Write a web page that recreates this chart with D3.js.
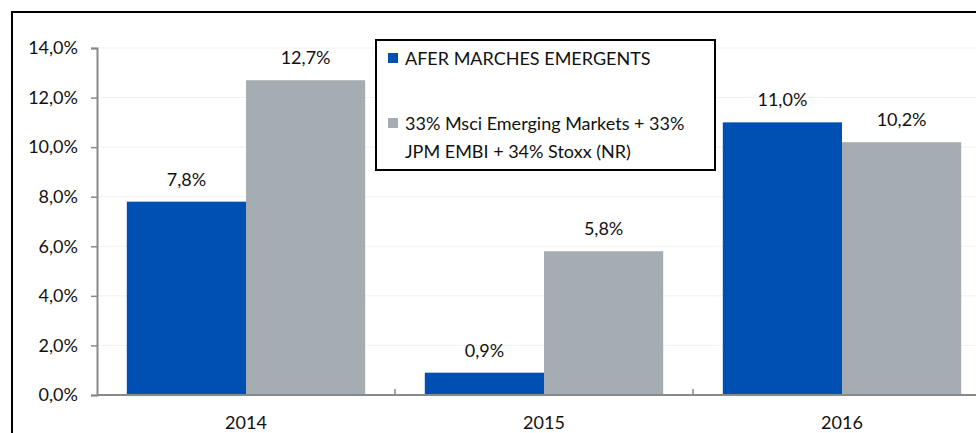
<!DOCTYPE html>
<html>
<head>
<meta charset="utf-8">
<script src="https://cdn.jsdelivr.net/npm/d3@7"></script>
<style>
  body { margin: 0; background: #fff; }
  svg text { font-family: Lato, "Open Sans", sans-serif; fill: #111; }
</style>
</head>
<body>
<div id="chart"></div>
<script>
'use strict';

const years = ['2014', '2015', '2016'];
const fund = [7.8, 0.9, 11.0];
const benchmark = [12.7, 5.8, 10.2];
const seriesNames = ['AFER MARCHES EMERGENTS', '33% Msci Emerging Markets + 33%|JPM EMBI + 34% Stoxx (NR)'];
const yTicks = [0, 2, 4, 6, 8, 10, 12, 14];

const W = 976, H = 433;
const margin = { top: 48, left: 97, right: -15, bottom: 38 };
const colors = ['#0050b4', '#a5adb3'];
const fs = '18px';
const fmt = v => v.toFixed(1).replace('.', ',') + '%';

const svg = d3.select('#chart').append('svg')
    .attr('width', W)
    .attr('height', H);

// outer frame
svg.append('rect')
    .attr('x', 12).attr('y', 12)
    .attr('width', W + 20).attr('height', H + 20)
    .attr('fill', 'none')
    .attr('stroke', '#000')
    .attr('stroke-width', 2);

const innerW = W - margin.left - margin.right;
const innerH = H - margin.top - margin.bottom;

const g = svg.append('g')
    .attr('transform', `translate(${margin.left}, ${margin.top})`);

const xOuter = d3.scaleBand().domain(years).range([0, innerW]);
const y = d3.scaleLinear().domain([0, 14]).range([innerH, 0]);

// gridlines
g.append('g')
    .selectAll('line')
    .data(yTicks.slice(1))
    .join('line')
    .attr('x1', 0).attr('x2', innerW)
    .attr('y1', d => y(d)).attr('y2', d => y(d))
    .attr('stroke', '#f2f2f2')
    .attr('stroke-width', 1);

const sub = d3.scaleBand().domain([0, 1]).range([0, xOuter.bandwidth() * 0.8]);
const series = [fund, benchmark];

series.forEach((vals, si) => {
  const grp = g.append('g');
  grp.selectAll('rect')
      .data(vals)
      .join('rect')
      .attr('x', (d, i) => xOuter(years[i]) + xOuter.bandwidth() * 0.1 + sub(si))
      .attr('y', d => y(d))
      .attr('width', sub.bandwidth())
      .attr('height', d => innerH - y(d))
      .attr('fill', colors[si]);
  grp.selectAll('text')
      .data(vals)
      .join('text')
      .attr('x', (d, i) => xOuter(years[i]) + xOuter.bandwidth() * 0.1 + sub(si) + sub.bandwidth() / 2)
      .attr('y', d => y(d) - 16)
      .attr('text-anchor', 'middle')
      .style('font-size', fs)
      .text(fmt);
});

// y axis
const yAxis = d3.axisLeft(y).tickValues(yTicks).tickFormat(fmt).tickSize(6).tickPadding(13);
const ya = g.append('g').attr('class', 'y-axis').call(yAxis);
ya.select('.domain').attr('stroke', '#898989').attr('stroke-width', 2);
ya.selectAll('.tick line').attr('stroke', '#898989').attr('stroke-width', 1.5);
ya.selectAll('.tick text').style('font-size', fs).style('fill', '#111');

// x axis
const xa = g.append('g').attr('transform', `translate(0, ${innerH})`);
xa.append('line')
    .attr('x1', 0).attr('x2', innerW)
    .attr('stroke', '#898989').attr('stroke-width', 2);
xa.selectAll('line.tk')
    .data(years.slice(1))
    .join('line')
    .attr('class', 'tk')
    .attr('x1', d => xOuter(d)).attr('x2', d => xOuter(d))
    .attr('y1', 0).attr('y2', -6)
    .attr('stroke', '#898989').attr('stroke-width', 1.5);
xa.selectAll('text')
    .data(years)
    .join('text')
    .attr('x', d => xOuter(d) + xOuter.bandwidth() / 2)
    .attr('y', 34)
    .attr('text-anchor', 'middle')
    .style('font-size', fs)
    .text(d => d);

// legend
const lg = svg.append('g').attr('transform', 'translate(376, 40)');
lg.append('rect')
    .attr('width', 339).attr('height', 130)
    .attr('fill', '#fff')
    .attr('stroke', '#000')
    .attr('stroke-width', 2);
const rows = [25, 90];
seriesNames.forEach((name, i) => {
  lg.append('rect')
      .attr('x', 12).attr('y', rows[i] - 12)
      .attr('width', 10).attr('height', 10)
      .attr('fill', colors[i]);
  const t = lg.append('text')
      .attr('x', 29).attr('y', rows[i])
      .style('font-size', fs);
  name.split('|').forEach((line, j) => {
    t.append('tspan').attr('x', 29).attr('dy', j === 0 ? 0 : 28).text(line);
  });
});
</script>
</body>
</html>
